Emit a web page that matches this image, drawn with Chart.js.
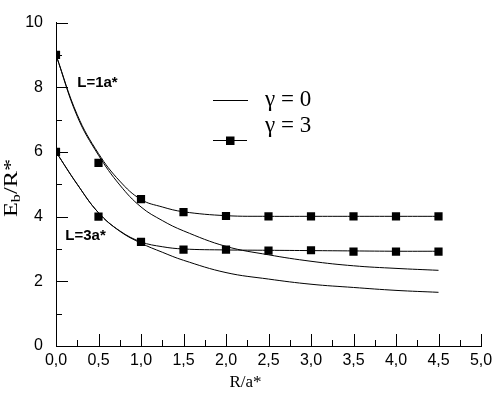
<!DOCTYPE html>
<html>
<head>
<meta charset="utf-8">
<script src="https://cdn.jsdelivr.net/npm/chart.js@4/dist/chart.umd.min.js"></script>
<style>
html,body{margin:0;padding:0;background:#fff;}
#wrap{width:502px;height:399px;position:relative;}
</style>
</head>
<body>
<div id="wrap"><canvas id="c" width="502" height="399"></canvas></div>
<script>
// ---- data ----
const xCurve  = [0, 0.25, 0.5, 0.75, 1.0, 1.25, 1.5, 2.0, 2.5, 3.0, 3.5, 4.0, 4.5];
const g0Upper = [9.0, 7.1, 5.9, 4.98, 4.3, 3.88, 3.56, 3.08, 2.82, 2.62, 2.48, 2.40, 2.34];
const g3Upper = [9.0, 7.15, 5.95, 5.1, 4.53, 4.3, 4.15, 4.03, 4.01, 4.01, 4.01, 4.01, 4.01];
const g0Lower = [6.0, 5.0, 4.12, 3.55, 3.18, 2.9, 2.65, 2.27, 2.07, 1.91, 1.81, 1.72, 1.66];
const g3Lower = [6.0, 5.0, 4.12, 3.56, 3.22, 3.07, 3.0, 2.97, 2.96, 2.95, 2.94, 2.93, 2.93];
const xSquares = [0, 0.5, 1.0, 1.5, 2.0, 2.5, 3.0, 3.5, 4.0, 4.5];
const sqUpper  = [9.0, 5.66, 4.54, 4.14, 4.02, 4.01, 4.01, 4.01, 4.01, 4.01];
const sqLower  = [6.0, 4.0, 3.22, 2.98, 2.98, 2.95, 2.96, 2.92, 2.92, 2.92];
const xTicks = [0, 0.5, 1.0, 1.5, 2.0, 2.5, 3.0, 3.5, 4.0, 4.5, 5.0];
const yTicks = [0, 2, 4, 6, 8, 10];
const legendLabels = ['\u03B3 = 0', '\u03B3 = 3'];
const curveLabels = ['L=1a*', 'L=3a*'];

const pts = (xs, ys) => xs.map((x, i) => ({x: x, y: ys[i]}));

const curveStyle = {
  borderColor: '#000', borderWidth: 1, pointRadius: 0, fill: false,
  tension: 0.4
};
const squareStyle = {
  showLine: false, pointStyle: 'rect', pointRadius: 5.8,
  pointBackgroundColor: '#000', pointBorderColor: '#000', pointBorderWidth: 0,
  borderColor: '#000'
};

const SANS = '"Liberation Sans", Arial, sans-serif';
const SERIF = '"Liberation Serif", "Times New Roman", serif';

const decor = {
  id: 'decor',
  afterDraw(chart) {
    const ctx = chart.ctx;
    const xs = chart.scales.x, ys = chart.scales.y;
    const x0 = xs.getPixelForValue(0), y0 = ys.getPixelForValue(0);
    ctx.save();
    ctx.strokeStyle = '#000';
    ctx.lineWidth = 1;
    // inward tick marks
    ctx.beginPath();
    for (let v = 0.25; v <= 5.0001; v += 0.25) {
      const px = Math.round(xs.getPixelForValue(v)) + 0.5;
      const major = Math.abs(v * 2 - Math.round(v * 2)) < 1e-6;
      ctx.moveTo(px, y0);
      ctx.lineTo(px, y0 - (major ? 12 : 6));
    }
    for (let v = 1; v <= 10; v += 1) {
      const py = Math.round(ys.getPixelForValue(v)) + 0.5;
      ctx.moveTo(x0, py);
      ctx.lineTo(x0 + (v % 2 === 0 ? 12 : 6), py);
    }
    ctx.stroke();

    // curve annotations
    ctx.fillStyle = '#000';
    ctx.font = 'bold 15px ' + SANS;
    ctx.textBaseline = 'middle';
    ctx.textAlign = 'left';
    ctx.fillText(curveLabels[0], xs.getPixelForValue(0.25), ys.getPixelForValue(8.15));
    ctx.fillText(curveLabels[1], xs.getPixelForValue(0.11), ys.getPixelForValue(3.42));

    // legend
    ctx.beginPath();
    ctx.moveTo(213, 100.5); ctx.lineTo(248, 100.5);
    ctx.moveTo(213, 140.5); ctx.lineTo(247, 140.5);
    ctx.stroke();
    ctx.fillRect(226, 136.5, 8.5, 8.5);
    ctx.font = '23px ' + SERIF;
    ctx.fillText(legendLabels[0], 265, 100);
    ctx.fillText(legendLabels[1], 265, 126);

    // x title
    ctx.font = '17px ' + SERIF;
    ctx.textAlign = 'center';
    ctx.fillText('R/a*', xs.getPixelForValue(2.23), 383);

    // y title  E_b/R*
    ctx.translate(12, 188);
    ctx.rotate(-Math.PI / 2);
    ctx.scale(1.35, 1);
    ctx.textAlign = 'left';
    ctx.font = '18px ' + SERIF;
    const wE = ctx.measureText('E').width;
    ctx.font = '12px ' + SERIF;
    const wb = ctx.measureText('b').width;
    ctx.font = '18px ' + SERIF;
    const wR = ctx.measureText('/R*').width;
    let start = -(wE + wb + wR) / 2;
    ctx.fillText('E', start, 0);
    ctx.font = '12px ' + SERIF;
    ctx.fillText('b', start + wE, 5);
    ctx.font = '18px ' + SERIF;
    ctx.fillText('/R*', start + wE + wb, 0);
    ctx.restore();
  }
};

new Chart(document.getElementById('c'), {
  type: 'line',
  data: {
    datasets: [
      Object.assign({label: 'g0 upper', data: pts(xCurve, g0Upper)}, curveStyle),
      Object.assign({label: 'g3 upper', data: pts(xCurve, g3Upper)}, curveStyle),
      Object.assign({label: 'g0 lower', data: pts(xCurve, g0Lower)}, curveStyle),
      Object.assign({label: 'g3 lower', data: pts(xCurve, g3Lower)}, curveStyle),
      Object.assign({label: 'g3 upper pts', data: pts(xSquares, sqUpper)}, squareStyle),
      Object.assign({label: 'g3 lower pts', data: pts(xSquares, sqLower)}, squareStyle)
    ]
  },
  options: {
    responsive: false,
    animation: false,
    events: [],
    layout: {padding: {left: 0, right: 21, top: 17, bottom: 0}},
    plugins: {legend: {display: false}, tooltip: {enabled: false}, title: {display: false}},
    scales: {
      x: {
        type: 'linear', min: 0, max: 5,
        afterBuildTicks: s => { s.ticks = xTicks.map(v => ({value: v})); },
        afterFit: s => { s.height = 53; },
        grid: {display: true, drawOnChartArea: false, drawTicks: false},
        border: {display: true, color: '#000', width: 1},
        ticks: {
          color: '#000', padding: 5, maxRotation: 0, autoSkip: false,
          font: {family: SANS, size: 16},
          callback: v => v.toFixed(1).replace('.', ',')
        }
      },
      y: {
        type: 'linear', min: 0, max: 10,
        afterBuildTicks: s => { s.ticks = yTicks.map(v => ({value: v})); },
        afterFit: s => { s.width = 56; },
        grid: {display: true, drawOnChartArea: false, drawTicks: false},
        border: {display: true, color: '#000', width: 1},
        ticks: {
          color: '#000', padding: 13, autoSkip: false,
          font: {family: SANS, size: 16},
          callback: v => String(v)
        }
      }
    }
  },
  plugins: [decor]
});
</script>
</body>
</html>
